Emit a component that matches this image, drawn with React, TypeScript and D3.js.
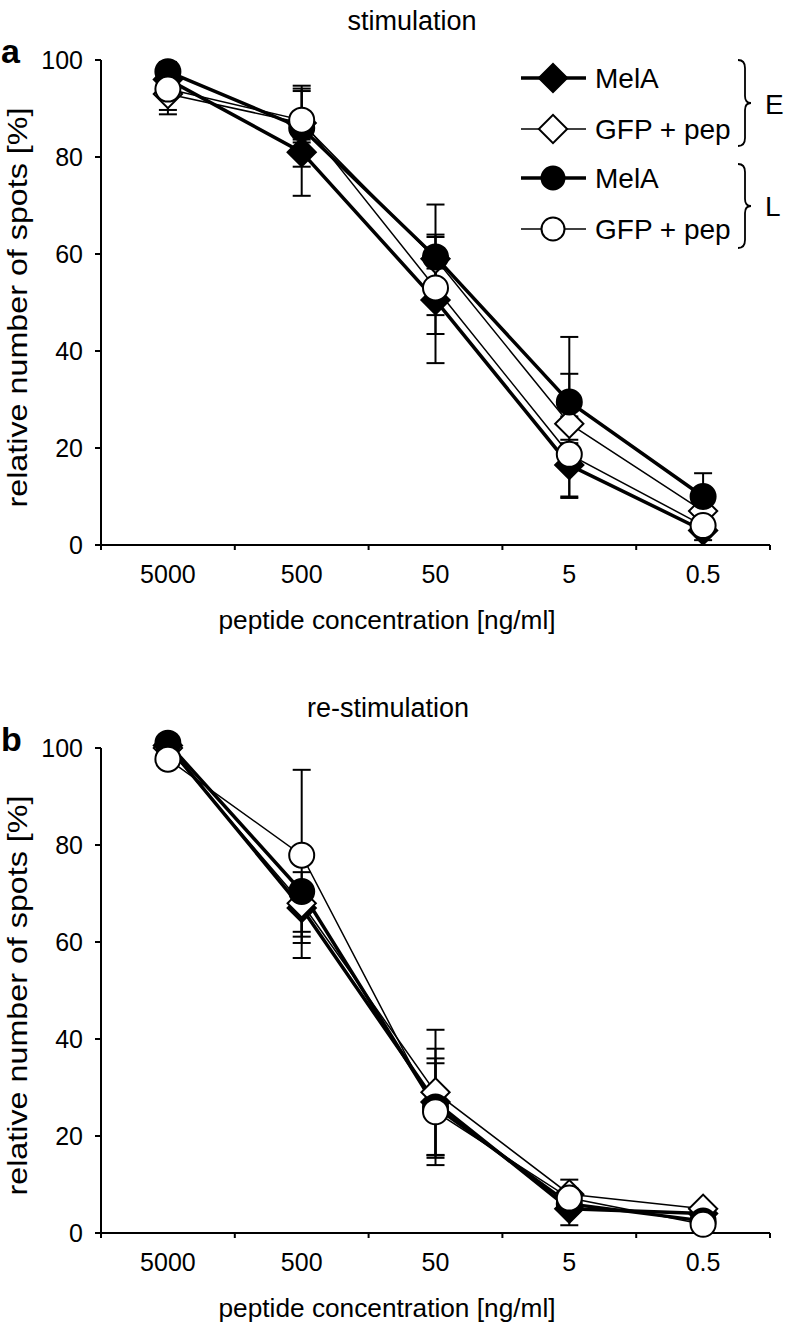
import React from "react";
import * as d3 from "d3";

const categories = ["5000", "500", "50", "5", "0.5"];
const yTicks = [0, 20, 40, 60, 80, 100];

// Panel a: stimulation
const aEMelA = [96, 81, 50.5, 16.5, 3];
const aEGfp = [93, 87, 59, 25, 7];
const aLMelA = [97.6, 86, 59.4, 29.5, 10];
const aLGfp = [94, 87.6, 53, 18.7, 4];
const aEMelAErrUp = [2, 3, 13, 4, 2];
const aEMelAErrDn = [2, 9, 13, 6.5, 2];
const aEGfpErrUp = [3, 7.7, 5, 10.3, 2];
const aEGfpErrDn = [4.2, 4, 5, 4, 2];
const aLMelAErrUp = [2, 8.1, 10.8, 13.4, 4.8];
const aLMelAErrDn = [2, 8, 12, 3, 2];
const aLGfpErrUp = [2, 6, 4, 3, 2];
const aLGfpErrDn = [4.3, 4, 9.5, 9, 2];

// Panel b: re-stimulation
const bEMelA = [100.5, 67, 27, 5, 4];
const bEGfp = [100, 68, 29, 8, 5];
const bLMelA = [101, 70.4, 26, 6, 2.5];
const bLGfp = [97.7, 77.9, 25, 7.2, 1.8];
const bEMelAErrUp = [1, 4, 11, 2, 1];
const bEMelAErrDn = [1, 10.3, 11, 3.4, 1];
const bEGfpErrUp = [1, 4, 12.9, 3, 1];
const bEGfpErrDn = [1, 8.2, 12.9, 2, 1];
const bLMelAErrUp = [1, 4, 9, 2, 1];
const bLMelAErrDn = [1, 8.3, 10.5, 2, 1];
const bLGfpErrUp = [1, 17.6, 11, 2, 1];
const bLGfpErrDn = [1, 16.8, 11, 2, 1];

const FONT = "'Liberation Sans', Arial, Helvetica, sans-serif";

type Series = {
  values: number[];
  up: number[];
  dn: number[];
  shape: "diamond" | "circle";
  filled: boolean;
  thick: boolean;
};

function Marker({ shape, filled, x, y, size }: { shape: string; filled: boolean; x: number; y: number; size?: number }) {
  const s = size ?? 1;
  if (shape === "circle") {
    const path = d3.symbol(d3.symbolCircle, Math.PI * 12.5 * 12.5 * s * s)() as string;
    return <path d={path} transform={`translate(${x},${y})`} fill={filled ? "#000" : "#fff"} stroke="#000" strokeWidth={2} />;
  }
  const side = 20 * s;
  const path = d3.symbol(d3.symbolSquare, side * side)() as string;
  return <path d={path} transform={`translate(${x},${y}) rotate(45)`} fill={filled ? "#000" : "#fff"} stroke="#000" strokeWidth={2} />;
}

function Panel({ series, top, bottom, title, titleX, titleY, letter }: {
  series: Series[]; top: number; bottom: number; title: string; titleX: number; titleY: number; letter: string;
}) {
  const left = 101, right = 770;
  const x = d3.scaleBand<string>().domain(categories).range([left, right]);
  const y = d3.scaleLinear().domain([0, 100]).range([bottom, top]);
  const cx = (c: string) => (x(c) as number) + x.bandwidth() / 2;
  const line = d3.line<number>().x((_, i) => cx(categories[i])).y((v) => y(v));
  const boundaries = d3.range(categories.length + 1).map((i) => left + i * x.bandwidth());
  return (
    <g>
      <text x={titleX} y={titleY} fontFamily={FONT} fontSize={27} textAnchor="middle">{title}</text>
      <text x={1} y={top + 3} fontFamily={FONT} fontSize={34} fontWeight="bold">{letter}</text>
      {/* y axis */}
      <line x1={left} x2={left} y1={top} y2={bottom} stroke="#000" strokeWidth={2} />
      {yTicks.map((t) => (
        <g key={t}>
          <line x1={left - 6} x2={left} y1={y(t)} y2={y(t)} stroke="#000" strokeWidth={2} />
          <text x={83} y={y(t)} dy="0.36em" fontFamily={FONT} fontSize={25} textAnchor="end">{t}</text>
        </g>
      ))}
      <text transform={`translate(27,${(top + bottom) / 2 + 5}) rotate(-90)`} fontFamily={FONT} fontSize={28} textAnchor="middle" textLength={400} lengthAdjust="spacingAndGlyphs">relative number of spots [%]</text>
      {/* x axis */}
      <line x1={left} x2={right} y1={bottom} y2={bottom} stroke="#000" strokeWidth={2} />
      {boundaries.map((b, i) => (
        <line key={i} x1={b} x2={b} y1={bottom} y2={bottom + 5} stroke="#000" strokeWidth={2} />
      ))}
      {categories.map((c) => (
        <text key={c} x={cx(c)} y={bottom + 38} fontFamily={FONT} fontSize={25} textAnchor="middle">{c}</text>
      ))}
      <text x={387} y={bottom + 84} fontFamily={FONT} fontSize={26} textAnchor="middle" textLength={337} lengthAdjust="spacingAndGlyphs">peptide concentration [ng/ml]</text>
      {/* error bars */}
      {series.map((s, si) => (
        <g key={"e" + si}>
          {s.values.map((v, i) => {
            const px = cx(categories[i]);
            const hi = y(v + s.up[i]);
            const lo = y(v - s.dn[i]);
            return (
              <g key={i}>
                <line x1={px} x2={px} y1={hi} y2={lo} stroke="#000" strokeWidth={2} />
                <line x1={px - 9} x2={px + 9} y1={hi} y2={hi} stroke="#000" strokeWidth={2} />
                <line x1={px - 9} x2={px + 9} y1={lo} y2={lo} stroke="#000" strokeWidth={2} />
              </g>
            );
          })}
        </g>
      ))}
      {/* lines */}
      {series.map((s, si) => (
        <path key={"l" + si} d={line(s.values) as string} fill="none" stroke="#000" strokeWidth={s.thick ? 3.5 : 1.5} />
      ))}
      {/* markers */}
      {series.map((s, si) => (
        <g key={"m" + si}>
          {s.values.map((v, i) => (
            <Marker key={i} shape={s.shape} filled={s.filled} x={cx(categories[i])} y={y(v)} />
          ))}
        </g>
      ))}
    </g>
  );
}

function Brace({ x, y1, y2 }: { x: number; y1: number; y2: number }) {
  const m = (y1 + y2) / 2;
  const w = 7;
  const d = `M${x},${y1} Q${x + w},${y1} ${x + w},${y1 + 8} L${x + w},${m - 7} Q${x + w},${m} ${x + w + 6},${m} Q${x + w},${m} ${x + w},${m + 7} L${x + w},${y2 - 8} Q${x + w},${y2} ${x},${y2}`;
  return <path d={d} fill="none" stroke="#000" strokeWidth={1.8} />;
}

const legendItems = [
  { label: "MelA", shape: "diamond", filled: true, thick: true },
  { label: "GFP + pep", shape: "diamond", filled: false, thick: false },
  { label: "MelA", shape: "circle", filled: true, thick: true },
  { label: "GFP + pep", shape: "circle", filled: false, thick: false },
];
const legendRows = [78, 129, 178, 229];

export default function App() {
  const seriesA: Series[] = [
    { values: aEMelA, up: aEMelAErrUp, dn: aEMelAErrDn, shape: "diamond", filled: true, thick: true },
    { values: aEGfp, up: aEGfpErrUp, dn: aEGfpErrDn, shape: "diamond", filled: false, thick: false },
    { values: aLMelA, up: aLMelAErrUp, dn: aLMelAErrDn, shape: "circle", filled: true, thick: true },
    { values: aLGfp, up: aLGfpErrUp, dn: aLGfpErrDn, shape: "circle", filled: false, thick: false },
  ];
  const seriesB: Series[] = [
    { values: bEMelA, up: bEMelAErrUp, dn: bEMelAErrDn, shape: "diamond", filled: true, thick: true },
    { values: bEGfp, up: bEGfpErrUp, dn: bEGfpErrDn, shape: "diamond", filled: false, thick: false },
    { values: bLMelA, up: bLMelAErrUp, dn: bLMelAErrDn, shape: "circle", filled: true, thick: true },
    { values: bLGfp, up: bLGfpErrUp, dn: bLGfpErrDn, shape: "circle", filled: false, thick: false },
  ];
  return (
    <svg width={786} height={1331} style={{ position: "absolute", left: 0, top: 0, background: "#fff" }}>
      <rect width={786} height={1331} fill="#fff" />
      <Panel series={seriesA} top={60} bottom={545} title="stimulation" titleX={412} titleY={30} letter="a" />
      <Panel series={seriesB} top={748} bottom={1233} title="re-stimulation" titleX={388} titleY={717} letter="b" />
      {legendItems.map((it, i) => (
        <g key={i}>
          <line x1={521} x2={586} y1={legendRows[i]} y2={legendRows[i]} stroke="#000" strokeWidth={it.thick ? 3.5 : 1.5} />
          <Marker shape={it.shape} filled={it.filled} x={553} y={legendRows[i]} size={it.shape === "circle" ? 0.92 : 1} />
          <text x={595} y={legendRows[i]} dy="0.36em" fontFamily={FONT} fontSize={28}>{it.label}</text>
        </g>
      ))}
      <Brace x={738} y1={60} y2={146} />
      <Brace x={738} y1={164} y2={248} />
      <text x={765} y={104} dy="0.36em" fontFamily={FONT} fontSize={28}>E</text>
      <text x={765} y={206} dy="0.36em" fontFamily={FONT} fontSize={28}>L</text>
    </svg>
  );
}
